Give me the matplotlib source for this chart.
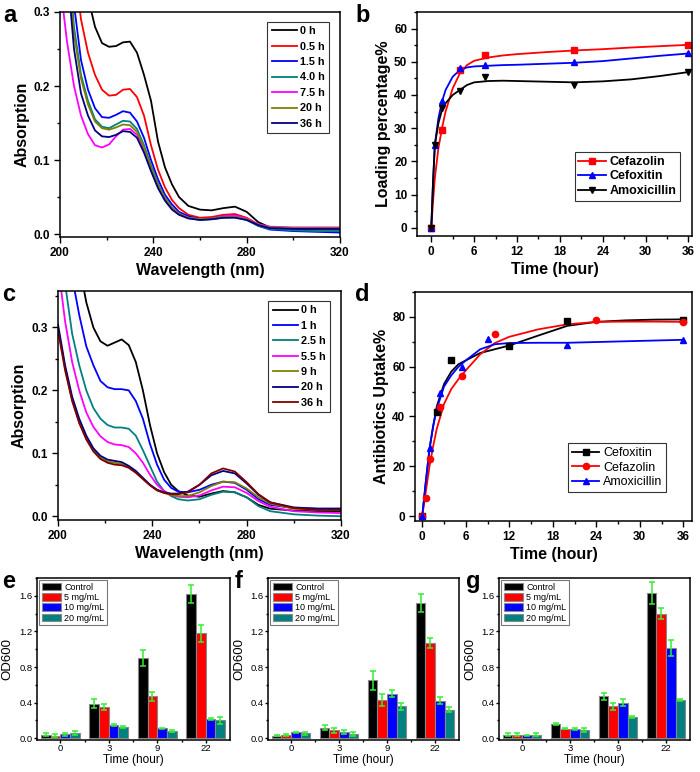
import numpy as np
import matplotlib
matplotlib.use("Agg")
import matplotlib.pyplot as plt
from matplotlib.ticker import MultipleLocator

plt.rcParams["font.family"] = ["Liberation Sans", "DejaVu Sans"]
plt.rcParams["axes.linewidth"] = 1.1

# ── Data ─────────────────────────────────────────────────────────────────────
WL = [200, 203, 206, 209, 212, 215, 218, 221, 224, 227, 230, 233, 236, 239,
      242, 245, 248, 251, 255, 260, 265, 270, 275, 280, 285, 290, 300, 310, 320]

# panel a: absorption spectra
A_LABELS = ["0 h", "0.5 h", "1.5 h", "4.0 h", "7.5 h", "20 h", "36 h"]
A_COLORS = ["black", "red", "blue", "#008080", "magenta", "#808000", "#000080"]
a_0h = [0.6, 0.5, 0.45, 0.38, 0.32, 0.28, 0.258, 0.253, 0.254, 0.259, 0.26, 0.245, 0.215, 0.18,
        0.125, 0.09, 0.067, 0.05, 0.038, 0.033, 0.032, 0.035, 0.037, 0.03, 0.016, 0.009, 0.007, 0.006, 0.006]
a_05h = [0.6, 0.5, 0.37, 0.29, 0.245, 0.215, 0.195, 0.187, 0.188, 0.195, 0.196, 0.185, 0.16, 0.12,
         0.087, 0.063, 0.046, 0.035, 0.026, 0.022, 0.023, 0.026, 0.027, 0.022, 0.013, 0.009, 0.008, 0.007, 0.007]
a_15h = [0.6, 0.45, 0.31, 0.235, 0.195, 0.17, 0.158, 0.157, 0.161, 0.166, 0.164, 0.152, 0.13, 0.1,
         0.074, 0.053, 0.04, 0.03, 0.024, 0.02, 0.021, 0.024, 0.025, 0.02, 0.011, 0.006, 0.004, 0.003, 0.002]
a_4h = [0.55, 0.4, 0.28, 0.215, 0.18, 0.155, 0.145, 0.143, 0.148, 0.153, 0.152, 0.142, 0.12, 0.093,
        0.068, 0.049, 0.036, 0.028, 0.022, 0.019, 0.02, 0.022, 0.023, 0.019, 0.011, 0.007, 0.005, 0.004, 0.004]
a_75h = [0.34, 0.26, 0.2, 0.16, 0.135, 0.12, 0.117, 0.121, 0.132, 0.141, 0.142, 0.134, 0.114, 0.088,
         0.065, 0.047, 0.035, 0.027, 0.022, 0.02, 0.021, 0.024, 0.025, 0.021, 0.013, 0.01, 0.009, 0.009, 0.009]
a_20h = [0.55, 0.39, 0.27, 0.21, 0.175, 0.152, 0.143, 0.141, 0.144, 0.148, 0.147, 0.138, 0.117, 0.09,
         0.066, 0.048, 0.035, 0.027, 0.022, 0.02, 0.021, 0.023, 0.023, 0.02, 0.012, 0.009, 0.008, 0.008, 0.008]
a_36h = [0.5, 0.36, 0.25, 0.19, 0.16, 0.14, 0.132, 0.131, 0.134, 0.139, 0.138, 0.13, 0.11, 0.085,
         0.062, 0.045, 0.033, 0.026, 0.021, 0.019, 0.02, 0.022, 0.022, 0.019, 0.012, 0.008, 0.007, 0.007, 0.007]

# panel c: absorption spectra
C_LABELS = ["0 h", "1 h", "2.5 h", "5.5 h", "9 h", "20 h", "36 h"]
C_COLORS = ["black", "blue", "#008080", "magenta", "#808000", "#000080", "#800000"]
c_0h = [0.6, 0.55, 0.48, 0.4, 0.34, 0.3, 0.278, 0.271, 0.276, 0.281, 0.272, 0.245, 0.2, 0.145,
        0.1, 0.07, 0.05, 0.04, 0.033, 0.031, 0.036, 0.04, 0.038, 0.03, 0.018, 0.012, 0.009, 0.008, 0.008]
c_1h = [0.6, 0.5, 0.38, 0.32, 0.27, 0.24, 0.215, 0.205, 0.202, 0.202, 0.2, 0.183, 0.155, 0.115,
        0.082, 0.058, 0.045, 0.039, 0.038, 0.042, 0.05, 0.055, 0.053, 0.042, 0.027, 0.018, 0.013, 0.012, 0.012]
c_25h = [0.45, 0.37, 0.29, 0.24, 0.2, 0.172, 0.155, 0.145, 0.141, 0.141, 0.139, 0.128, 0.105, 0.08,
         0.055, 0.04, 0.032, 0.027, 0.025, 0.027, 0.034, 0.039, 0.038, 0.03, 0.016, 0.008, 0.003, 0.001, 0.0]
c_55h = [0.4, 0.31, 0.245, 0.2, 0.165, 0.142, 0.127, 0.118, 0.114, 0.113, 0.11, 0.1, 0.085, 0.066,
         0.05, 0.04, 0.034, 0.031, 0.03, 0.033, 0.041, 0.047, 0.046, 0.037, 0.024, 0.015, 0.008, 0.006, 0.005]
c_9h = [0.3, 0.235, 0.185, 0.15, 0.124, 0.105, 0.093, 0.087, 0.085, 0.083, 0.078, 0.07, 0.06, 0.05,
        0.042, 0.037, 0.034, 0.032, 0.032, 0.038, 0.048, 0.055, 0.054, 0.044, 0.03, 0.02, 0.012, 0.01, 0.01]
c_20h = [0.305, 0.24, 0.19, 0.155, 0.128, 0.108, 0.096, 0.09, 0.088, 0.086, 0.08, 0.072, 0.061, 0.05,
         0.042, 0.038, 0.036, 0.036, 0.039, 0.05, 0.065, 0.072, 0.068, 0.052, 0.034, 0.022, 0.014, 0.012, 0.012]
c_36h = [0.295, 0.232, 0.183, 0.148, 0.122, 0.103, 0.091, 0.085, 0.082, 0.081, 0.077, 0.069, 0.059, 0.049,
         0.041, 0.037, 0.035, 0.035, 0.038, 0.05, 0.068, 0.076, 0.071, 0.054, 0.035, 0.022, 0.013, 0.01, 0.01]

# panel b: loading percentage (measured points)
b_cefazolin_t = [0, 1.5, 4, 7.5, 20, 36]
b_cefazolin = [0, 29.3, 47.5, 52.0, 53.5, 55.1]
b_cefoxitin_t = [0, 0.5, 1.5, 4, 7.5, 20, 36]
b_cefoxitin = [0, 24.8, 38.1, 48.1, 49.1, 49.8, 52.5]
b_amoxicillin_t = [0, 0.5, 1.5, 4, 7.5, 20, 36]
b_amoxicillin = [0, 24.8, 36.1, 41.1, 45.3, 42.9, 46.9]
# panel b: fitted curves
FIT_T = [0, 0.25, 0.5, 1, 1.5, 2, 3, 4, 5, 6, 8, 10, 12, 16, 20, 24, 28, 32, 36]
b_cefazolin_fit = [0, 8, 15, 24, 30, 35, 42, 46.5, 49, 50.3, 51.3, 51.9, 52.3, 52.9, 53.4, 53.8, 54.3, 54.7, 55.1]
b_cefoxitin_fit = [0, 14, 25, 33, 38, 41.5, 45.5, 47.5, 48.3, 48.6, 48.8, 49.0, 49.1, 49.4, 49.7, 50.2, 51.0, 51.8, 52.5]
b_amoxicillin_fit = [0, 14, 25, 31.5, 35.5, 37.5, 40, 41.5, 43, 43.8, 44.2, 44.3, 44.2, 44.0, 43.8, 44.1, 44.7, 45.7, 46.9]

# panel d: antibiotics uptake (measured points)
d_cefoxitin_t = [0, 2, 4, 12, 20, 36]
d_cefoxitin = [0, 41.8, 62.6, 68.2, 78.5, 78.9]
d_cefazolin_t = [0, 0.5, 1, 2.5, 5.5, 10, 24, 36]
d_cefazolin = [0, 7.1, 22.8, 44, 56.3, 73.1, 78.7, 77.9]
d_amoxicillin_t = [0, 1, 2.5, 5.5, 9, 20, 36]
d_amoxicillin = [0, 27.4, 49.4, 59.9, 71.1, 68.9, 70.9]
# panel d: fitted curves
d_cefoxitin_fit = [0, 7, 14, 27, 36, 44, 53, 58, 61, 62.5, 65.5, 67, 68.5, 72.5, 76.4, 78, 78.6, 78.9, 79]
d_cefazolin_fit = [0, 5, 10, 20, 28, 35, 45, 51, 55, 58.5, 65, 69.5, 72, 75, 77, 78, 78.1, 78.1, 78]
d_amoxicillin_fit = [0, 7, 14, 27, 36, 43, 52, 56.5, 60, 62.5, 67, 69, 69.5, 69.6, 69.6, 69.9, 70.2, 70.5, 70.8]

# panels e, f, g: OD600 bars
GROUPS = ["0", "3", "9", "22"]
CONC = ["Control", "5 mg/mL", "10 mg/mL", "20 mg/mL"]
BAR_COLORS = ["black", "red", "blue", "#008080"]
e_mean = [[0.04, 0.39, 0.90, 1.62], [0.03, 0.355, 0.47, 1.18],
          [0.045, 0.145, 0.11, 0.22], [0.06, 0.125, 0.08, 0.20]]
e_err = [[0.02, 0.05, 0.09, 0.10], [0.015, 0.035, 0.05, 0.095],
         [0.015, 0.01, 0.01, 0.01], [0.02, 0.01, 0.01, 0.04]]
f_mean = [[0.03, 0.12, 0.65, 1.52], [0.035, 0.09, 0.43, 1.07],
          [0.065, 0.07, 0.50, 0.42], [0.055, 0.05, 0.36, 0.32]]
f_err = [[0.01, 0.03, 0.11, 0.10], [0.01, 0.03, 0.07, 0.06],
         [0.01, 0.025, 0.04, 0.04], [0.015, 0.02, 0.04, 0.03]]
g_mean = [[0.04, 0.16, 0.47, 1.63], [0.04, 0.105, 0.36, 1.40],
          [0.035, 0.10, 0.40, 1.01], [0.04, 0.09, 0.24, 0.43]]
g_err = [[0.02, 0.01, 0.04, 0.12], [0.015, 0.005, 0.04, 0.06],
         [0.005, 0.01, 0.04, 0.09], [0.015, 0.02, 0.01, 0.01]]

# ── Layout helpers ───────────────────────────────────────────────────────────
W, H = 700, 772
fig = plt.figure(figsize=(W / 100, H / 100), dpi=100)


def box(l, t, r, b):
    return [l / W, 1 - b / H, (r - l) / W, (b - t) / H]


def style(ax, size=8.5, weight="bold", length=4, pad=3):
    ax.tick_params(which="both", direction="out", top=False, right=False)
    ax.tick_params(which="major", length=length, width=1, labelsize=size, pad=pad)
    ax.tick_params(which="minor", length=length * 0.6, width=1)
    for lab in ax.get_xticklabels() + ax.get_yticklabels():
        lab.set_fontweight(weight)


def panel_letter(x, y, s):
    fig.text(x / W, 1 - y / H, s, fontsize=17, fontweight="bold", va="top", ha="left")


def spectra_legend(ax):
    leg = ax.legend(loc="upper right", bbox_to_anchor=(0.98, 0.98), handlelength=2.3,
                    labelspacing=0.5, fancybox=False, edgecolor="black", borderpad=0.4,
                    handletextpad=0.3, prop={"weight": "bold", "size": 7.8})
    leg.get_frame().set_linewidth(0.8)


# ── Panel a ──────────────────────────────────────────────────────────────────
ax = fig.add_axes(box(60, 12, 340, 237))
for ys, lab, col in zip([a_0h, a_05h, a_15h, a_4h, a_75h, a_20h, a_36h], A_LABELS, A_COLORS):
    ax.plot(WL, ys, color=col, lw=1.3, label=lab)
ax.set_xlim(200, 320)
ax.set_ylim(-0.004, 0.3)
ax.xaxis.set_major_locator(MultipleLocator(40))
ax.xaxis.set_minor_locator(MultipleLocator(20))
ax.yaxis.set_major_locator(MultipleLocator(0.1))
ax.yaxis.set_minor_locator(MultipleLocator(0.05))
style(ax)
ax.set_xlabel("Wavelength (nm)", fontsize=11.5, fontweight="bold", labelpad=3)
ax.set_ylabel("Absorption", fontsize=11.5, fontweight="bold", labelpad=3)
spectra_legend(ax)
panel_letter(3, 4, "a")

# ── Panel b ──────────────────────────────────────────────────────────────────
ax = fig.add_axes(box(417, 12, 692, 236))
ax.plot(FIT_T, b_cefazolin_fit, color="red", lw=1.3)
ax.plot(FIT_T, b_cefoxitin_fit, color="blue", lw=1.3)
ax.plot(FIT_T, b_amoxicillin_fit, color="black", lw=1.3)
ax.plot(b_cefazolin_t, b_cefazolin, "s", color="red", ms=4.5, ls="none")
ax.plot(b_cefoxitin_t, b_cefoxitin, "^", color="blue", ms=5, ls="none")
ax.plot(b_amoxicillin_t, b_amoxicillin, "v", color="black", ms=5, ls="none")
h1, = ax.plot([], [], "-s", color="red", ms=4.5, lw=1.3)
h2, = ax.plot([], [], "-^", color="blue", ms=5, lw=1.3)
h3, = ax.plot([], [], "-v", color="black", ms=5, lw=1.3)
ax.set_xlim(-2, 36.5)
ax.set_ylim(-2.5, 65)
ax.xaxis.set_major_locator(MultipleLocator(6))
ax.xaxis.set_minor_locator(MultipleLocator(3))
ax.yaxis.set_major_locator(MultipleLocator(10))
ax.yaxis.set_minor_locator(MultipleLocator(5))
style(ax)
ax.set_xlabel("Time (hour)", fontsize=11.5, fontweight="bold", labelpad=3)
ax.set_ylabel("Loading percentage%", fontsize=11.5, fontweight="bold", labelpad=2)
leg = ax.legend([h1, h2, h3], ["Cefazolin", "Cefoxitin", "Amoxicillin"], loc="lower right",
                bbox_to_anchor=(0.98, 0.13), fancybox=False, edgecolor="black",
                handlelength=2.2, labelspacing=0.2, borderpad=0.3, handletextpad=0.3,
                prop={"weight": "bold", "size": 9})
leg.get_frame().set_linewidth(0.8)
panel_letter(355, 4, "b")

# ── Panel c ──────────────────────────────────────────────────────────────────
ax = fig.add_axes(box(58, 291, 341, 520))
for ys, lab, col in zip([c_0h, c_1h, c_25h, c_55h, c_9h, c_20h, c_36h], C_LABELS, C_COLORS):
    ax.plot(WL, ys, color=col, lw=1.3, label=lab)
ax.set_xlim(200, 320)
ax.set_ylim(-0.006, 0.358)
ax.xaxis.set_major_locator(MultipleLocator(40))
ax.xaxis.set_minor_locator(MultipleLocator(20))
ax.yaxis.set_major_locator(MultipleLocator(0.1))
ax.yaxis.set_minor_locator(MultipleLocator(0.05))
style(ax)
ax.set_xlabel("Wavelength (nm)", fontsize=11.5, fontweight="bold", labelpad=3)
ax.set_ylabel("Absorption", fontsize=11.5, fontweight="bold", labelpad=4)
spectra_legend(ax)
panel_letter(2, 283, "c")

# ── Panel d ──────────────────────────────────────────────────────────────────
ax = fig.add_axes(box(415, 292, 692, 521))
ax.plot(FIT_T, d_cefoxitin_fit, color="black", lw=1.3)
ax.plot(FIT_T, d_cefazolin_fit, color="red", lw=1.3)
ax.plot(FIT_T, d_amoxicillin_fit, color="blue", lw=1.3)
ax.plot(d_cefoxitin_t, d_cefoxitin, "s", color="black", ms=4.5, ls="none")
ax.plot(d_cefazolin_t, d_cefazolin, "o", color="red", ms=4.5, ls="none")
ax.plot(d_amoxicillin_t, d_amoxicillin, "^", color="blue", ms=5, ls="none")
h1, = ax.plot([], [], "-s", color="black", ms=4.5, lw=1.3)
h2, = ax.plot([], [], "-o", color="red", ms=4.5, lw=1.3)
h3, = ax.plot([], [], "-^", color="blue", ms=5, lw=1.3)
ax.set_xlim(-1, 37.2)
ax.set_ylim(-2, 90)
ax.xaxis.set_major_locator(MultipleLocator(6))
ax.xaxis.set_minor_locator(MultipleLocator(3))
ax.yaxis.set_major_locator(MultipleLocator(20))
ax.yaxis.set_minor_locator(MultipleLocator(10))
style(ax)
ax.set_xlabel("Time (hour)", fontsize=11.5, fontweight="bold", labelpad=3)
ax.set_ylabel("Antibiotics Uptake%", fontsize=11.5, fontweight="bold", labelpad=2)
leg = ax.legend([h1, h2, h3], ["Cefoxitin", "Cefazolin", "Amoxicillin"], loc="lower right",
                bbox_to_anchor=(0.93, 0.1), fancybox=False, edgecolor="black",
                handlelength=2.2, labelspacing=0.2, borderpad=0.3, handletextpad=0.3,
                prop={"size": 9})
leg.get_frame().set_linewidth(0.8)
panel_letter(355, 283, "d")

# ── Panels e, f, g ───────────────────────────────────────────────────────────
bar_boxes = [(37, 578, 230, 740), (268, 578, 459, 740), (499, 578, 690, 740)]
bar_data = [(e_mean, e_err, "e", 2), (f_mean, f_err, "f", 235), (g_mean, g_err, "g", 466)]
x = np.arange(len(GROUPS))
width = 0.2
for (l, t, r, b), (means, errs, letter, lx) in zip(bar_boxes, bar_data):
    ax = fig.add_axes(box(l, t, r, b))
    for i, (m, e, lab, col) in enumerate(zip(means, errs, CONC, BAR_COLORS)):
        ax.bar(x + (i - 1.5) * width, m, width, color=col, edgecolor="#888888",
               linewidth=0.8, label=lab, zorder=2)
        ax.errorbar(x + (i - 1.5) * width, m, yerr=e, fmt="none", ecolor="#33ee33",
                    elinewidth=1.1, capsize=2, capthick=1.1, zorder=3)
    ax.set_xlim(-0.48, 3.5)
    ax.set_ylim(-0.02, 1.8)
    ax.set_xticks(x)
    ax.set_xticklabels(GROUPS)
    ax.set_xticks([0.5, 1.5, 2.5], minor=True)
    ax.yaxis.set_major_locator(MultipleLocator(0.4))
    ax.yaxis.set_minor_locator(MultipleLocator(0.2))
    style(ax, size=6.8, weight="normal", length=2, pad=1)
    ax.set_xlabel("Time (hour)", fontsize=8.5, va="center")
    ax.xaxis.set_label_coords(0.5, -0.122)
    ax.set_ylabel("OD600", fontsize=9.5)
    ax.yaxis.set_label_coords(-0.12, 0.5)
    leg = ax.legend(loc="upper left", fancybox=False, edgecolor="#555555",
                    handlelength=2.2, handleheight=0.9, labelspacing=0.15, borderpad=0.3,
                    handletextpad=0.3, borderaxespad=0.2, prop={"size": 6.5})
    leg.get_frame().set_linewidth(0.8)
    panel_letter(lx, 570, letter)

fig.savefig("out.png", dpi=100)
